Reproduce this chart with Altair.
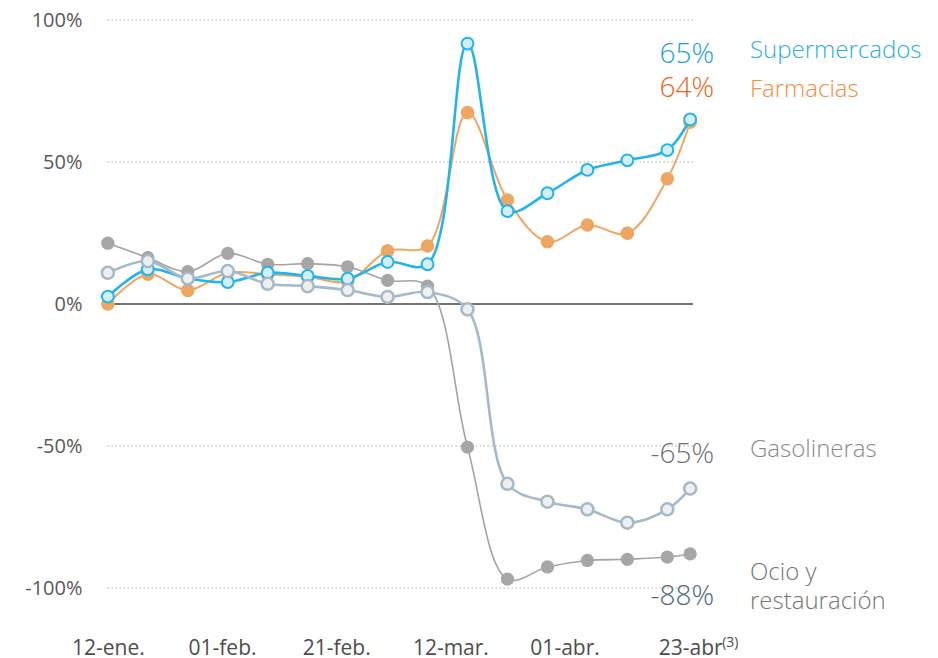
import altair as alt
import pandas as pd

dates = ["2020-01-12", "2020-01-19", "2020-01-26", "2020-02-02", "2020-02-09",
         "2020-02-16", "2020-02-23", "2020-03-01", "2020-03-08", "2020-03-15",
         "2020-03-22", "2020-03-29", "2020-04-05", "2020-04-12", "2020-04-19",
         "2020-04-23"]

supermercados = [2.6, 12.2, 9.0, 7.7, 11.0, 9.9, 8.9, 14.8, 14.0, 91.7, 32.7, 39.0, 47.2, 50.6, 54.2, 65]
farmacias = [0, 10.5, 4.8, 11, 10.5, 9.6, 8, 18.7, 20.4, 67.4, 36.6, 21.9, 27.8, 24.9, 44.1, 64]
gasolineras = [11.0, 15.1, 9.0, 11.6, 7.1, 6.3, 4.9, 2.5, 4.2, -1.9, -63.3, -69.6, -72.3, -77.0, -72.3, -65]
ocio = [21.4, 16.3, 11.4, 17.8, 14.0, 14.2, 13.1, 8.3, 6.3, -50.4, -96.9, -92.6, -90.3, -89.9, -89.1, -88]

tick_dates = ["2020-01-12", "2020-02-01", "2020-02-21", "2020-03-12", "2020-04-01", "2020-04-23"]
tick_labels = ["12-ene.", "01-feb.", "21-feb.", "12-mar.", "01-abr.", "23-abr"]
y_ticks = [-100, -50, 0, 50, 100]
grid_vals = [100, 50, -50, -100]

FONT = "Open Sans"

def utc_dt(s, hours=0):
    y, m, d = [int(p) for p in s.split("-")]
    return alt.DateTime(year=y, month=m, date=d, hours=hours, utc=True)

tick_ms = [int(pd.Timestamp(d, tz="UTC").value // 10**6) for d in tick_dates]
label_expr = "[" + ",".join("'%s'" % l for l in tick_labels) + "][indexof([" + \
    ",".join(str(t) for t in tick_ms) + "], time(datum.value))]"

xscale = alt.Scale(type="utc", domain=[utc_dt("2020-01-11", 12), utc_dt("2020-04-23", 12)])
yscale = alt.Scale(domain=[-100, 100])

x_axis = alt.Axis(values=[utc_dt(d) for d in tick_dates], labelExpr=label_expr,
                  title=None, domain=False, ticks=False, tickSize=0, grid=False,
                  labelFont=FONT, labelFontSize=21, labelColor="#4d4d4d",
                  labelBaseline="alphabetic", labelPadding=66, labelFlush=False,
                  labelOverlap=False)
y_axis = alt.Axis(values=y_ticks, labelExpr="datum.value + '%'", title=None,
                  domain=False, ticks=False, tickSize=0, grid=False,
                  labelFont=FONT, labelFontSize=20, labelColor="#595959",
                  labelPadding=23)

def X():
    return alt.X("date:T", scale=xscale, axis=x_axis)

def Y():
    return alt.Y("value:Q", scale=yscale, axis=y_axis)

series = [
    # name, values, line color, line width, point fill, point stroke, point size, stroke width
    ("Ocio", ocio, "#a3a3a3", 1.6, "#a6a6a6", "#a6a6a6", 175, 0),
    ("Farmacias", farmacias, "#eda762", 2.0, "#eda762", "#eda762", 185, 0),
    ("Supermercados", supermercados, "#22b4ea", 2.6, "#d4eefa", "#22b4ea", 140, 2),
    ("Gasolineras", gasolineras, "#a4b9c9", 2.6, "#efefef", "#a4b9c9", 145, 2.5),
]

grid_df = pd.DataFrame({"value": grid_vals})
grid = alt.Chart(grid_df).mark_rule(color="#c9c9c9", strokeWidth=1.5, strokeDash=[1.5, 2.5]).encode(
    y=Y())
zero = alt.Chart(pd.DataFrame({"value": [0]})).mark_rule(color="#444444", strokeWidth=1.5).encode(
    y=Y())

layers = [grid, zero]
for name, vals, lc, lw, pf, ps, sz, sw in series:
    df = pd.DataFrame({"date": dates, "value": vals})
    line = alt.Chart(df).mark_line(color=lc, strokeWidth=lw, interpolate="catmull-rom").encode(
        x=X(), y=Y())
    pts = alt.Chart(df).mark_point(shape="circle", filled=True, fill=pf, stroke=ps,
                                   strokeWidth=sw, size=sz, opacity=1).encode(
        x=X(), y=Y())
    layers += [line, pts]

# end annotations
ann = [
    ("65%", 609, 43, "right", "#1b9fd8", 28),
    ("Supermercados", 645, 38, "left", "#2aaee4", 24),
    ("64%", 609, 77, "right", "#f0641b", 28),
    ("Farmacias", 645, 77, "left", "#f68d3c", 24),
    ("-65%", 609, 443, "right", "#707070", 28),
    ("Gasolineras", 645, 437, "left", "#8a8a8a", 24),
    ("-88%", 609, 585, "right", "#4c667b", 28),
    ("Ocio y", 645, 560, "left", "#767676", 24),
    ("restauración", 645, 589, "left", "#767676", 24),
]
for txt, px, py, al, col, fs in ann:
    layers.append(alt.Chart(pd.DataFrame({"t": [txt]})).mark_text(
        align=al, baseline="alphabetic", font=FONT, fontSize=fs, fontWeight=300, color=col).encode(
        x=alt.value(px), y=alt.value(py), text="t:N"))

sup = alt.Chart(pd.DataFrame({"date": ["2020-04-23"], "t": ["(3)"]})).mark_text(
    align="left", baseline="alphabetic", font=FONT, fontSize=14, color="#4d4d4d", dx=32).encode(
    x=X(), y=alt.value(627), text="t:N")
layers.append(sup)

chart = alt.layer(*layers).properties(
    width=588, height=568,
    autosize=alt.AutoSizeParams(type="none"),
    padding={"left": 97, "top": 12, "right": 237, "bottom": 68},
).configure_view(stroke=None)

chart.save("out.html", embed_options={"renderer": "svg", "actions": False})
